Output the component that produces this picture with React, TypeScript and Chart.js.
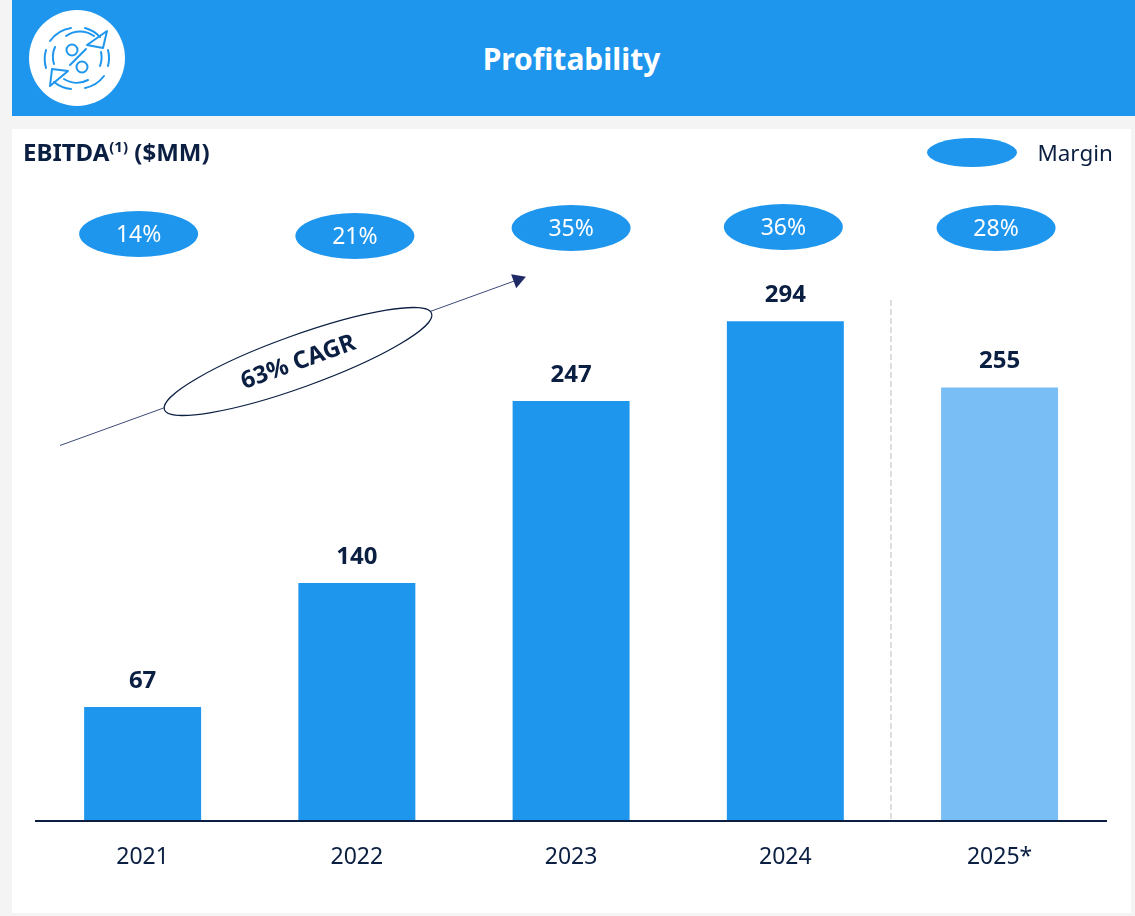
import React, { useEffect, useRef } from "react";
import { Chart, registerables } from "chart.js";

Chart.register(...registerables);

const categories = ["2021", "2022", "2023", "2024", "2025*"];
const ebitda = [67, 140, 247, 294, 255];
const margins = ["14%", "21%", "35%", "36%", "28%"];
const cagrLabel = "63% CAGR";
const legendLabel = "Margin";

const BLUE = "#1E96EE";
const LIGHT = "#79BEF5";
const INK = "#0B1F42";
const FONT = '"Noto Sans", sans-serif';

const pillDx = [-4, -2, 0, -2, -3.5];
const pillY = [234, 236, 228, 227, 228];

const annotations = {
  id: "annotations",
  beforeDatasetsDraw(chart: any) {
    const { ctx, scales } = chart;
    const x = scales.x;
    const dash = (x.getPixelForValue(3) + x.getPixelForValue(4)) / 2 - 1.5;
    ctx.save();
    ctx.strokeStyle = "#BDBDBD";
    ctx.lineWidth = 1;
    ctx.setLineDash([6, 3]);
    ctx.beginPath();
    ctx.moveTo(dash, 300);
    ctx.lineTo(dash, 821);
    ctx.stroke();
    ctx.restore();
  },
  afterDatasetsDraw(chart: any) {
    const { ctx, scales } = chart;
    const x = scales.x;
    const y = scales.y;
    ctx.save();
    ctx.textAlign = "center";
    ctx.textBaseline = "middle";

    // value labels
    ctx.fillStyle = INK;
    ctx.font = `bold 24px ${FONT}`;
    ebitda.forEach((v, i) => {
      ctx.fillText(String(v), x.getPixelForValue(i), y.getPixelForValue(v) - 26);
    });

    // margin pills
    margins.forEach((m, i) => {
      const cx = x.getPixelForValue(i) + pillDx[i];
      ctx.fillStyle = BLUE;
      ctx.beginPath();
      ctx.ellipse(cx, pillY[i], 59.5, 23, 0, 0, Math.PI * 2);
      ctx.fill();
      ctx.fillStyle = "#FFFFFF";
      ctx.font = `23px ${FONT}`;
      ctx.fillText(m, cx, pillY[i] + 1.5);
    });

    // legend
    ctx.fillStyle = BLUE;
    ctx.beginPath();
    ctx.ellipse(972, 152.5, 45, 14.5, 0, 0, Math.PI * 2);
    ctx.fill();
    ctx.fillStyle = INK;
    ctx.font = `22.4px ${FONT}`;
    ctx.textAlign = "left";
    ctx.fillText(legendLabel, 1037.5, 155);
    ctx.textAlign = "center";

    // CAGR arrow
    const x0 = 60, y0 = 445.5, x1 = 524, y1 = 277.5;
    const ang = Math.atan2(y1 - y0, x1 - x0);
    ctx.strokeStyle = "#3C4A78";
    ctx.lineWidth = 1;
    ctx.beginPath();
    ctx.moveTo(x0, y0);
    ctx.lineTo(x1, y1);
    ctx.stroke();
    ctx.save();
    ctx.translate(x1, y1);
    ctx.rotate(ang);
    ctx.fillStyle = "#1F2A66";
    ctx.beginPath();
    ctx.moveTo(2, 0);
    ctx.lineTo(-11, -7.5);
    ctx.lineTo(-11, 7.5);
    ctx.closePath();
    ctx.fill();
    ctx.restore();

    ctx.save();
    ctx.translate(298, 361.5);
    ctx.rotate(-19.8 * Math.PI / 180);
    ctx.fillStyle = "#FFFFFF";
    ctx.strokeStyle = INK;
    ctx.lineWidth = 1.2;
    ctx.beginPath();
    ctx.ellipse(0, 0, 142, 26, 0, 0, Math.PI * 2);
    ctx.fill();
    ctx.stroke();
    ctx.fillStyle = INK;
    ctx.font = `bold 24px ${FONT}`;
    ctx.fillText(cagrLabel, 0, 1);
    ctx.restore();

    ctx.restore();
  },
};

function Icon() {
  const c = BLUE;
  return (
    <svg width={1135} height={116} style={{ position: "absolute", left: 0, top: 0 }}>
      <circle cx={77} cy={58} r={48} fill="#fff" />
      <g fill="none" stroke={c} strokeWidth={2} strokeLinecap="round" strokeLinejoin="round">
        <path d="M71 28 A32 32 0 0 0 50 41" />
        <path d="M46 50 A32 32 0 0 0 46 68" />
        <path d="M54 82 A32 32 0 0 0 71 89" />
        <path d="M85 88 A32 32 0 0 0 104 76" />
        <path d="M108 66 A32 32 0 0 0 108 50" />
        <path d="M85 28 A32 32 0 0 1 100 37" />
        <path d="M66 36 A24 24 0 0 1 94 36" />
        <path d="M55 47 A24 24 0 0 0 54 64" />
        <path d="M64 79 A24 24 0 0 0 88 80" />
        <path d="M101 52 A24 24 0 0 1 100 66" />
        <circle cx={72} cy={50} r={5.5} />
        <circle cx={82} cy={67} r={5.5} />
        <path d="M86 49 L70 65" />
        <path d="M107 31 L103 48 L87 45 Z" />
        <path d="M50 86 L52 69 L68 71 Z" />
      </g>
    </svg>
  );
}

export default function App() {
  const ref = useRef<HTMLCanvasElement>(null);
  useEffect(() => {
    const chart = new Chart(ref.current as HTMLCanvasElement, {
      type: "bar",
      data: {
        labels: categories,
        datasets: [
          {
            data: ebitda,
            backgroundColor: [BLUE, BLUE, BLUE, BLUE, LIGHT],
            barPercentage: 0.546,
            categoryPercentage: 1,
          },
        ],
      },
      options: {
        animation: false,
        responsive: false,
        layout: { padding: { left: 35.5, right: 28.3, top: 141, bottom: 0 } },
        plugins: { legend: { display: false }, tooltip: { enabled: false } },
        scales: {
          x: {
            afterFit(s: any) { s.height = 95; },
            grid: { display: false },
            border: { display: true, color: INK, width: 2, z: 1 },
            ticks: { color: INK, font: { family: FONT, size: 23 }, padding: 15, maxRotation: 0 },
          },
          y: { display: false, min: 0, max: 400 },
        },
      },
      plugins: [annotations],
    } as any);
    return () => chart.destroy();
  }, []);

  return (
    <div style={{ position: "absolute", left: 0, top: 0, width: 1135, height: 916, background: "#F4F4F4", overflow: "hidden", fontFamily: FONT }}>
      <div style={{ position: "absolute", left: 12, top: 0, width: 1123, height: 116, background: BLUE }} />
      <Icon />
      <div style={{ position: "absolute", left: 12, top: 1, width: 1119, height: 116, lineHeight: "116px", textAlign: "center", color: "#fff", fontWeight: 700, fontSize: 30 }}>
        Profitability
      </div>
      <div style={{ position: "absolute", left: 12, top: 129, width: 1119, height: 784, background: "#fff" }} />
      <canvas ref={ref} width={1135} height={916} style={{ position: "absolute", left: 0, top: 0 }} />
      <div style={{ position: "absolute", left: 23, top: 137, lineHeight: "30px", color: INK, fontWeight: 700, fontSize: 24, whiteSpace: "nowrap" }}>
        EBITDA<sup style={{ fontSize: 15, lineHeight: 0 }}>(1)</sup> ($MM)
      </div>
    </div>
  );
}
